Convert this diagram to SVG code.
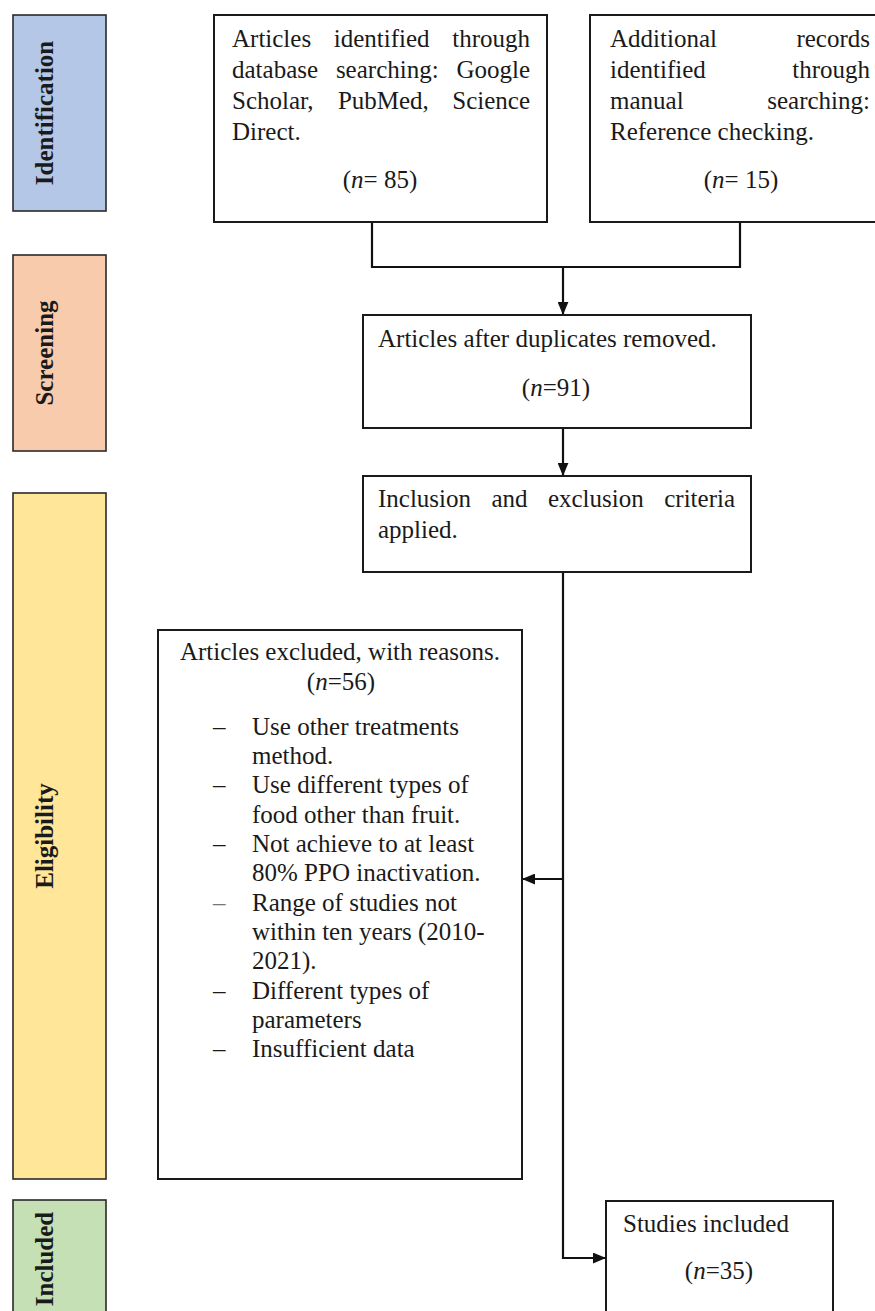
<svg xmlns="http://www.w3.org/2000/svg" width="875" height="1311" viewBox="0 0 875 1311">
<style>
  text { font-family: "Liberation Serif", "Times New Roman", serif; font-size: 25px; fill: #1a1a1a; }
  .lbl { font-weight: bold; text-anchor: middle; }
  .mid { text-anchor: middle; }
  .end { text-anchor: end; }
  .box { fill: #ffffff; stroke: #1a1a1a; stroke-width: 2; }
  .bar { stroke: #2a2a2a; stroke-width: 1.6; }
  .conn { fill: none; stroke: #111111; stroke-width: 2.2; }
</style>
<defs>
  <marker id="arr" viewBox="0 0 12 10" refX="12" refY="5" markerWidth="13" markerHeight="11" markerUnits="userSpaceOnUse" orient="auto">
    <path d="M0,0 L12,5 L0,10 z" fill="#111111"/>
  </marker>
</defs>
<rect width="875" height="1311" fill="#ffffff"/>

<g id="phase-identification">
  <rect class="bar" x="13" y="15" width="93" height="196" fill="#b4c7e7"/>
  <text class="lbl" transform="translate(53,113) rotate(-90)">Identification</text>
</g>
<g id="phase-screening">
  <rect class="bar" x="13" y="255" width="93" height="196" fill="#f8cbad"/>
  <text class="lbl" transform="translate(53,353) rotate(-90)">Screening</text>
</g>
<g id="phase-eligibility">
  <rect class="bar" x="13" y="493" width="93" height="686" fill="#ffe699"/>
  <text class="lbl" transform="translate(53,836) rotate(-90)">Eligibility</text>
</g>
<g id="phase-included">
  <rect class="bar" x="13" y="1200" width="93" height="130" fill="#c5e0b4"/>
  <text class="lbl" transform="translate(53,1259) rotate(-90)">Included</text>
</g>

<g id="connectors">
  <polyline class="conn" points="372,222 372,267 740,267 740,222"/>
  <line class="conn" x1="563" y1="267" x2="563" y2="315" marker-end="url(#arr)"/>
  <line class="conn" x1="563" y1="428" x2="563" y2="476" marker-end="url(#arr)"/>
  <polyline class="conn" points="563,572 563,1258 606,1258" marker-end="url(#arr)"/>
  <line class="conn" x1="563" y1="879" x2="522" y2="879" marker-end="url(#arr)"/>
</g>

<g id="node-database">
  <rect class="box" x="214" y="15" width="333" height="207"/>
  <text y="47"><tspan x="232">Articles</tspan><tspan x="333.8">identified</tspan><tspan x="452.2">through</tspan></text>
  <text y="78"><tspan x="232">database</tspan><tspan x="335.9">searching:</tspan><tspan x="456.4">Google</tspan></text>
  <text y="109"><tspan x="232">Scholar,</tspan><tspan x="337.9">PubMed,</tspan><tspan x="452.3">Science</tspan></text>
  <text x="232" y="140">Direct.</text>
  <text class="mid" x="380" y="188">(<tspan font-style="italic">n</tspan>= 85)</text>
</g>

<g id="node-manual">
  <rect class="box" x="590" y="15" width="290" height="207"/>
  <text x="610" y="47">Additional</text>
  <text class="end" x="870" y="47">records</text>
  <text x="610" y="78">identified</text>
  <text class="end" x="870" y="78">through</text>
  <text x="610" y="109">manual</text>
  <text class="end" x="870" y="109">searching:</text>
  <text x="610" y="140">Reference checking.</text>
  <text class="mid" x="741" y="188">(<tspan font-style="italic">n</tspan>= 15)</text>
</g>

<g id="node-duplicates">
  <rect class="box" x="363" y="315" width="388" height="113"/>
  <text x="378" y="347">Articles after duplicates removed.</text>
  <text class="mid" x="556" y="396">(<tspan font-style="italic">n</tspan>=91)</text>
</g>

<g id="node-criteria">
  <rect class="box" x="363" y="476" width="388" height="96"/>
  <text x="378" y="507">Inclusion</text>
  <text x="491.4" y="507">and</text>
  <text x="547.9" y="507">exclusion</text>
  <text class="end" x="735" y="507">criteria</text>
  <text x="378" y="538">applied.</text>
</g>

<g id="node-excluded">
  <rect class="box" x="158" y="630" width="364" height="549" stroke-width="1.6"/>
  <text class="mid" x="340" y="660">Articles excluded, with reasons.</text>
  <text class="mid" x="341" y="690">(<tspan font-style="italic">n</tspan>=56)</text>
  <text x="213" y="735">–</text><text x="252" y="735">Use other treatments</text>
  <text x="252" y="764">method.</text>
  <text x="213" y="793">–</text><text x="252" y="793">Use different types of</text>
  <text x="252" y="823">food other than fruit.</text>
  <text x="213" y="852">–</text><text x="252" y="852">Not achieve to at least</text>
  <text x="252" y="881">80% PPO inactivation.</text>
  <text x="213" y="911" style="fill:#777777">–</text><text x="252" y="911">Range of studies not</text>
  <text x="252" y="940">within ten years (2010-</text>
  <text x="252" y="969">2021).</text>
  <text x="213" y="999">–</text><text x="252" y="999">Different types of</text>
  <text x="252" y="1028">parameters</text>
  <text x="213" y="1057">–</text><text x="252" y="1057">Insufficient data</text>
</g>

<g id="node-included">
  <rect class="box" x="606" y="1201" width="227" height="130"/>
  <text x="623" y="1232">Studies included</text>
  <text class="mid" x="719" y="1279">(<tspan font-style="italic">n</tspan>=35)</text>
</g>
</svg>
